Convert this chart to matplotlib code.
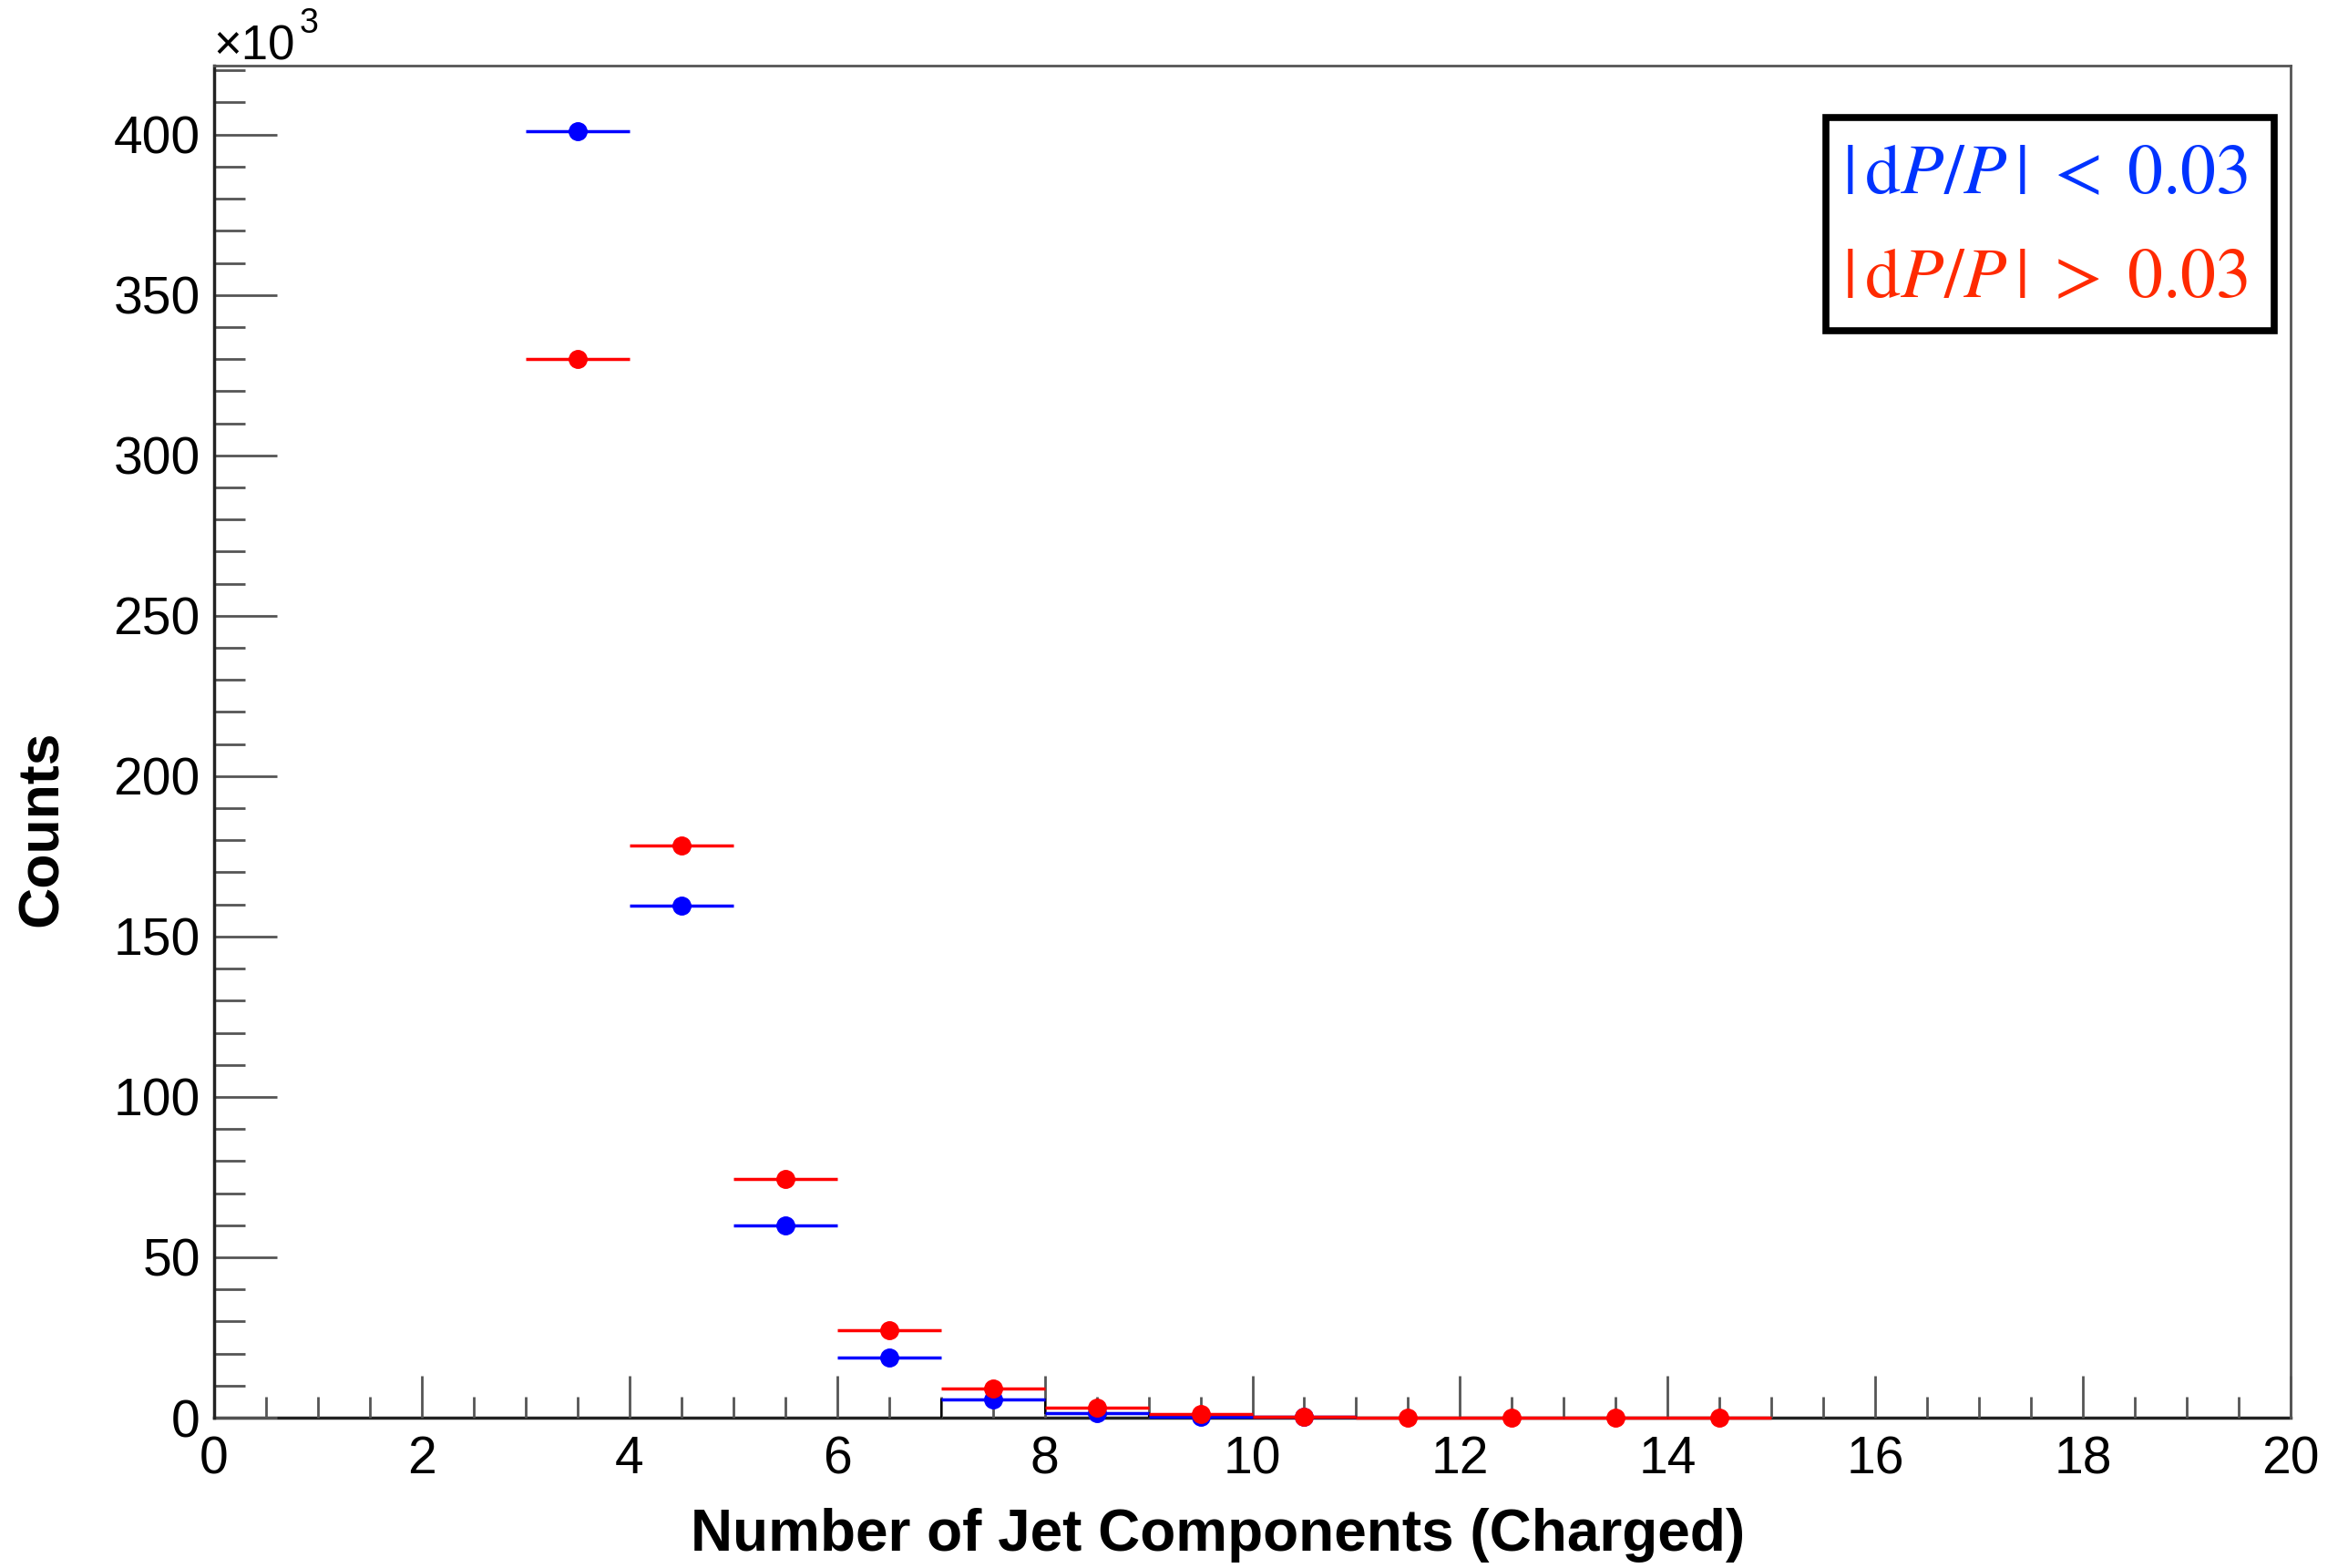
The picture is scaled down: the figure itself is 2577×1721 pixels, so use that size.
import numpy as np
import matplotlib
matplotlib.use("Agg")
import matplotlib.pyplot as plt
from matplotlib.patches import Rectangle
from matplotlib.ticker import MultipleLocator

# ---- data (counts in units of 10^3) ----
bin_centers = [3.5, 4.5, 5.5, 6.5, 7.5, 8.5, 9.5, 10.5, 11.5, 12.5, 13.5, 14.5]
blue_vals = [401.0, 159.5, 60.0, 18.8, 5.7, 1.3, 0.4, 0.15, 0.0, 0.0, 0.0, 0.0]
red_vals = [330.0, 178.5, 74.5, 27.2, 9.0, 3.0, 1.0, 0.35, 0.05, 0.02, 0.01, 0.01]
bin_half_width = 0.5
x_ticks = [0, 2, 4, 6, 8, 10, 12, 14, 16, 18, 20]
y_ticks = [0, 50, 100, 150, 200, 250, 300, 350, 400]
legend_labels = [r'$|\,\mathrm{d}P/P\,|\;<\;0.03$', r'$|\,\mathrm{d}P/P\,|\;>\;0.03$']

plt.rcParams['mathtext.fontset'] = 'stix'
plt.rcParams['font.family'] = ['Liberation Sans', 'DejaVu Sans']

W, H = 2577, 1721
PT = 0.72  # px -> pt at dpi 100
fig = plt.figure(figsize=(W / 100, H / 100), dpi=100)
L, R, T, B = 235, 2514, 72, 1556
ax = fig.add_axes([L / W, 1 - B / H, (R - L) / W, (B - T) / H])

ax.set_xlim(0, 20)
ax.set_ylim(0, 421.5)

bc = np.array(bin_centers)
bv = np.array(blue_vals)
rv = np.array(red_vals)

# thin black outline of blue histogram in the tail
tail = (bc > 7) & (bc < 11)
edges = np.concatenate([bc[tail] - bin_half_width, [bc[tail][-1] + bin_half_width]])
ax.stairs(bv[tail], edges, color='black', lw=1.5, zorder=2)

mb = bv > 0
ax.errorbar(bc[mb], bv[mb], xerr=bin_half_width, fmt='o', color='#0000ff',
            ms=14, elinewidth=2.5, capsize=0, zorder=3, clip_on=False)
mr = rv > 0
ax.errorbar(bc[mr], rv[mr], xerr=bin_half_width, fmt='o', color='#ff0000',
            ms=14, elinewidth=2.5, capsize=0, zorder=4, clip_on=False)

# ticks
ax.set_xticks(x_ticks)
ax.set_yticks(y_ticks)
ax.xaxis.set_minor_locator(MultipleLocator(0.5))
ax.yaxis.set_minor_locator(MultipleLocator(10))
ax.tick_params(axis='both', which='both', direction='in', colors='#555555',
               labelcolor='black', width=2, labelsize=41)
ax.tick_params(axis='y', which='major', length=69 * PT, pad=11)
ax.tick_params(axis='y', which='minor', length=34 * PT)
ax.tick_params(axis='x', which='major', length=46 * PT, pad=14)
ax.tick_params(axis='x', which='minor', length=23 * PT)
for s in ['left', 'bottom']:
    ax.spines[s].set_linewidth(2.5)
    ax.spines[s].set_color('#222222')
for s in ['top', 'right']:
    ax.spines[s].set_linewidth(2)
    ax.spines[s].set_color('#555555')
ax.spines['bottom'].set_zorder(1)

# axis titles
fig.text(1337 / W, 1 - 1685 / H, 'Number of Jet Components (Charged)',
         ha='center', va='center', fontsize=46, fontweight='bold')
fig.text(46 / W, 1 - 909 / H, 'Counts', ha='center', va='center',
         rotation=90, fontsize=45, fontweight='bold')

# x10^3 multiplier
fig.text(234 / W, 1 - 66 / H, '×10', ha='left', va='baseline', fontsize=38)
fig.text(329 / W, 1 - 36 / H, '3', ha='left', va='baseline', fontsize=27)

# legend box
fig.patches.append(Rectangle((2004 / W, 1 - 363 / H), (2496 - 2004) / W, (363 - 129) / H,
                             transform=fig.transFigure, fill=False, ec='black', lw=5.5))
fig.text(2022 / W, 1 - 192 / H, legend_labels[0], color='#0033ff', fontsize=56,
         ha='left', va='center')
fig.text(2022 / W, 1 - 306 / H, legend_labels[1], color='#ff2a00', fontsize=56,
         ha='left', va='center')

fig.savefig('out.png', dpi=100)
